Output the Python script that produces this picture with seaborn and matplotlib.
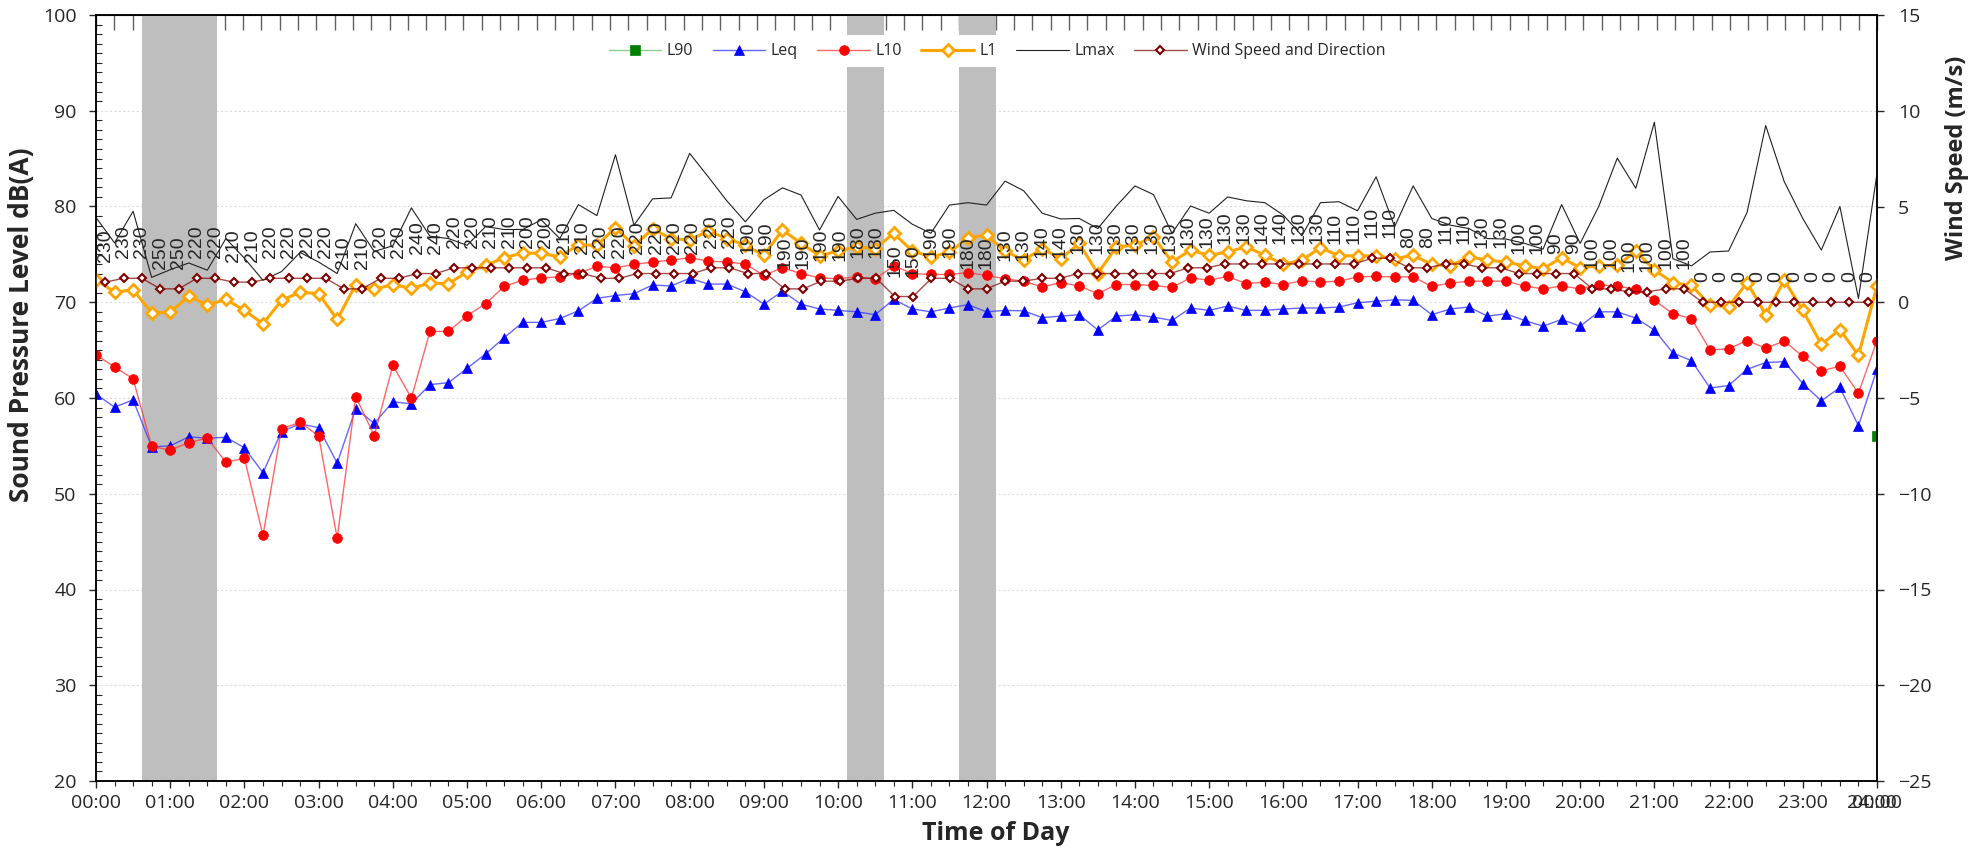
import numpy as np
import pandas as pd
import matplotlib
matplotlib.use("Agg")
import matplotlib.pyplot as plt
from matplotlib.ticker import MultipleLocator, FixedLocator
import seaborn as sns

# ---------------- data (15-minute intervals, 00:00 .. 24:00) ----------------
leq = [60.4, 59.05, 59.8, 54.9, 55.0, 55.95, 55.8, 55.9, 54.8, 52.2,
       56.5, 57.3, 56.9, 53.2, 58.9, 57.35, 59.6, 59.4, 61.4, 61.6,
       63.1, 64.6, 66.3, 67.9, 67.9, 68.3, 69.1, 70.4, 70.7, 70.9,
       71.8, 71.7, 72.5, 71.9, 71.9, 71.1, 69.8, 71.15, 69.8, 69.3,
       69.15, 69.0, 68.7, 70.3, 69.3, 69.0, 69.4, 69.75, 69.0, 69.15,
       69.1, 68.4, 68.55, 68.7, 67.1, 68.55, 68.7, 68.45, 68.1, 69.4,
       69.15, 69.6, 69.15, 69.15, 69.3, 69.4, 69.4, 69.5, 69.95, 70.1,
       70.25, 70.2, 68.7, 69.3, 69.5, 68.55, 68.8, 68.1, 67.5, 68.2,
       67.5, 69.0, 69.0, 68.35, 67.1, 64.7, 63.9, 61.05, 61.3, 63.0,
       63.7, 63.8, 61.5, 59.7, 61.1, 57.1, 63.0]

l10 = [64.5, 63.25, 62.0, 54.95, 54.55, 55.35, 55.8, 53.3, 53.7, 45.65,
       56.8, 57.45, 56.05, 45.35, 60.15, 56.05, 63.4, 60.0, 66.95, 66.95,
       68.6, 69.85, 71.65, 72.3, 72.55, 72.65, 73.0, 73.75, 73.6, 73.95,
       74.2, 74.4, 74.65, 74.3, 74.2, 74.0, 72.8, 73.6, 73.0, 72.55,
       72.45, 72.65, 72.45, 73.8, 73.0, 72.9, 72.9, 73.1, 72.8, 72.45,
       72.2, 71.6, 72.05, 71.7, 70.9, 71.85, 71.85, 71.75, 71.55, 72.55,
       72.3, 72.7, 71.95, 72.1, 71.85, 72.25, 72.1, 72.2, 72.65, 72.7,
       72.65, 72.65, 71.65, 72.0, 72.2, 72.2, 72.2, 71.7, 71.4, 71.7,
       71.4, 71.85, 71.65, 71.4, 70.2, 68.8, 68.3, 65.0, 65.15, 66.0,
       65.2, 65.95, 64.35, 62.85, 63.3, 60.5, 66.0]

l1 = [72.35, 71.05, 71.3, 68.9, 68.95, 70.65, 69.7, 70.3, 69.15, 67.75,
      70.2, 71.05, 70.9, 68.2, 71.85, 71.35, 71.85, 71.45, 72.0, 71.95,
      73.15, 73.85, 74.65, 75.15, 75.1, 74.75, 76.0, 75.95, 77.8, 75.9,
      77.65, 76.65, 76.5, 77.45, 76.65, 75.95, 74.9, 77.55, 76.15, 74.85,
      75.35, 75.8, 75.6, 77.2, 75.35, 74.75, 75.2, 76.75, 77.0, 75.35,
      74.4, 75.6, 74.55, 76.15, 73.0, 75.8, 75.95, 76.85, 74.2, 75.45,
      74.9, 75.25, 75.8, 74.9, 73.95, 74.4, 75.7, 74.85, 74.85, 74.85,
      74.55, 74.9, 73.95, 73.8, 74.75, 74.4, 74.2, 73.8, 73.5, 74.65,
      73.6, 73.8, 73.85, 75.35, 73.35, 72.05, 71.75, 69.7, 69.55, 72.05,
      68.7, 72.3, 69.15, 65.6, 67.15, 64.45, 71.7]

lmax = [78.85, 76.2, 79.5, 72.6, 73.4, 74.1, 73.35, 76.65, 74.6, 72.3,
        73.2, 75.2, 74.2, 73.0, 78.2, 75.3, 75.9, 79.85, 76.9, 76.65,
        75.95, 77.9, 77.6, 77.6, 78.6, 76.65, 80.2, 79.05, 85.4, 78.05,
        80.8, 80.9, 85.55, 83.1, 80.6, 78.4, 80.7, 81.95, 81.2, 77.55,
        81.05, 78.65, 79.3, 79.6, 78.15, 77.2, 80.15, 80.4, 80.15, 82.65,
        81.65, 79.3, 78.7, 78.75, 77.7, 80.05, 82.15, 81.25, 77.2, 80.05,
        79.3, 81.0, 80.6, 80.4, 79.1, 76.95, 80.4, 80.5, 79.55, 83.1,
        77.9, 82.15, 78.75, 78.05, 77.7, 76.65, 76.6, 76.15, 75.55, 80.2,
        76.15, 80.0, 85.05, 81.9, 88.8, 74.55, 73.8, 75.25, 75.35, 79.4,
        88.45, 82.6, 78.75, 75.45, 80.0, 70.4, 83.45]

l90_time = ["24:00"]
l90 = [56.0]

# wind (97 categories, plotted between the tick marks of the top axis)
wind_speed = [1.05, 1.25, 1.25, 0.7, 0.7, 1.25, 1.25, 1.05, 1.05, 1.25,
              1.25, 1.25, 1.25, 0.7, 0.7, 1.25, 1.25, 1.5, 1.5, 1.8,
              1.8, 1.8, 1.8, 1.8, 1.8, 1.5, 1.5, 1.25, 1.25, 1.5,
              1.5, 1.5, 1.5, 1.8, 1.8, 1.5, 1.5, 0.7, 0.7, 1.1,
              1.1, 1.25, 1.25, 0.3, 0.3, 1.25, 1.25, 0.7, 0.7, 1.1,
              1.1, 1.25, 1.25, 1.5, 1.5, 1.5, 1.5, 1.5, 1.5, 1.8,
              1.8, 2.0, 2.0, 2.0, 2.0, 2.0, 2.0, 2.0, 2.0, 2.3,
              2.3, 1.8, 1.8, 2.0, 2.0, 1.8, 1.8, 1.5, 1.5, 1.5,
              1.5, 0.7, 0.7, 0.55, 0.55, 0.7, 0.7, 0, 0, 0,
              0, 0, 0, 0, 0, 0, 0]

wind_dir = [230, 230, 230, 250, 250, 220, 220, 210, 210, 220,
            220, 220, 220, 210, 210, 220, 220, 240, 240, 220,
            220, 210, 210, 200, 200, 210, 210, 220, 220, 220,
            220, 220, 220, 220, 220, 190, 190, 190, 190, 190,
            190, 180, 180, 150, 150, 190, 190, 180, 180, 130,
            130, 140, 140, 130, 130, 130, 130, 130, 130, 130,
            130, 130, 130, 140, 140, 130, 130, 110, 110, 110,
            110, 80, 80, 110, 110, 130, 130, 100, 100, 90,
            90, 100, 100, 100, 100, 100, 100, 0, 0, 0,
            0, 0, 0, 0, 0, 0, 0]

shaded_slots = ["00:45", "01:00", "01:15", "01:30", "10:15", "10:30", "11:45", "12:00"]
hour_labels = ["00:00", "01:00", "02:00", "03:00", "04:00", "05:00", "06:00", "07:00",
               "08:00", "09:00", "10:00", "11:00", "12:00", "13:00", "14:00", "15:00",
               "16:00", "17:00", "18:00", "19:00", "20:00", "21:00", "22:00", "23:00", "00:00"]


def to_hours(s):
    h, m = s.split(":")
    return int(h) + int(m) / 60.0


# ---------------- style ----------------
sns.set_style("white")
plt.rcParams['font.family'] = ['Open Sans', 'DejaVu Sans']

W, H = 1982, 850
fig = plt.figure(figsize=(W / 100, H / 100), dpi=100)
L, R, T, B = 96, 1877, 15, 781
ax = fig.add_axes([L / W, 1 - B / H, (R - L) / W, (B - T) / H])

n = len(leq)
t = np.arange(n) * 0.25
df = pd.DataFrame({"hour": t, "Leq": leq, "L10": l10, "L1": l1, "Lmax": lmax})
nw = len(wind_speed)
tw = (np.arange(nw) + 0.5) * 24.0 / nw
dfw = pd.DataFrame({"hour": tw, "speed": wind_speed, "dir": wind_dir})

# shaded periods
sh = [to_hours(s) for s in shaded_slots]
ax.bar(sh, [80] * len(sh), bottom=20, width=0.25, color="#BEBEBE", linewidth=0, zorder=1)

common = dict(ax=ax, estimator=None, sort=False, legend=False)
sns.lineplot(x=[to_hours(s) for s in l90_time], y=l90, color=(0.55, 0.8, 0.55), lw=1,
             marker="s", markersize=6.5, markerfacecolor="#008000",
             markeredgecolor="#008000", markeredgewidth=0.5, label="L90", zorder=3, **common)
sns.lineplot(data=df, x="hour", y="Leq", color=(0.2, 0.2, 1.0, 0.75), lw=1,
             marker="^", markersize=7.5, markerfacecolor="#0000FF",
             markeredgecolor="#0000FF", markeredgewidth=0.5, label="Leq", zorder=4, **common)
sns.lineplot(data=df, x="hour", y="L10", color=(1.0, 0.2, 0.2, 0.75), lw=1,
             marker="o", markersize=7, markerfacecolor="#FF0000",
             markeredgecolor="#FF0000", markeredgewidth=0.5, label="L10", zorder=5, **common)
sns.lineplot(data=df, x="hour", y="L1", color="#FFA500", lw=2.2,
             marker="D", markersize=6.3, markerfacecolor="white",
             markeredgecolor="#FFA500", markeredgewidth=2, label="L1", zorder=6, **common)
sns.lineplot(data=df, x="hour", y="Lmax", color="#202020", lw=0.8,
             label="Lmax", zorder=7, **common)

ax.set_xlim(0, 24)
ax.set_ylim(20, 100)
ax.yaxis.set_major_locator(MultipleLocator(10))
ax.yaxis.set_minor_locator(MultipleLocator(1))
ax.xaxis.set_major_locator(FixedLocator(np.arange(25)))
ax.set_xticklabels(hour_labels)
ax.xaxis.set_minor_locator(MultipleLocator(0.25))
ax.set_axisbelow(True)
ax.yaxis.grid(True, which="major", color="#DCDCDC", linestyle=(0, (2, 2)), lw=0.8)
ax.xaxis.grid(False)

ax.tick_params(axis="y", which="major", direction="out", length=5, width=1, pad=9,
               labelsize=14, left=True, right=False)
ax.tick_params(axis="y", which="minor", direction="in", length=4, width=0.8,
               left=True, right=False)
ax.tick_params(axis="x", which="major", direction="out", length=5, width=1, pad=4,
               labelsize=14, bottom=True, top=False)
ax.tick_params(axis="x", which="minor", direction="out", length=3.5, width=0.8,
               bottom=True, top=False)
for s in ax.spines.values():
    s.set_color("black")
    s.set_linewidth(1.1)

# overlapping end label as in the original
ax.annotate("24:00", xy=(24, 0), xycoords=("data", "axes fraction"),
            xytext=(-3.6, -9), textcoords="offset points", ha="center", va="top",
            fontsize=14)

# top category ticks (wind categories)
top = ax.secondary_xaxis("top")
top.set_xticks(np.arange(nw + 1) * 24.0 / nw)
top.set_xticklabels([])
top.tick_params(direction="in", length=11, width=1, color="#606060")

# right axis: wind
ax2 = ax.twinx()
ax2.set_ylim(-25, 15)
ax2.yaxis.set_major_locator(MultipleLocator(5))
sns.lineplot(data=dfw, x="hour", y="speed", ax=ax2, estimator=None, sort=False, legend=False,
             color=(0.5, 0.0, 0.0, 0.7), lw=1, marker="D", markersize=4,
             markerfacecolor="white", markeredgecolor="#800000", markeredgewidth=1.5,
             label="Wind Speed and Direction", zorder=8)
for x, y, d in zip(dfw["hour"], dfw["speed"], dfw["dir"]):
    ax2.annotate(str(d), xy=(x, y), xytext=(0, 20), textcoords="offset pixels",
                 rotation=90, ha="center", va="bottom", fontsize=14,
                 family=["Liberation Sans", "DejaVu Sans"], zorder=9)
ax2.tick_params(axis="y", direction="out", length=5, width=1, pad=10, labelsize=14)
for s in ax2.spines.values():
    s.set_color("black")
    s.set_linewidth(1.1)

# axis titles
ax.set_xlabel("Time of Day", fontsize=18, fontweight="bold")
ax.xaxis.label.set_va("center")
ax.xaxis.set_label_coords(0.505, -0.068)
ax.set_ylabel("Sound Pressure Level dB(A)", fontsize=19, fontweight="bold")
ax.yaxis.label.set_va("center")
ax.yaxis.set_label_coords(-0.042, 0.595)
ax2.set_ylabel("Wind Speed (m/s)", fontsize=17, fontweight="bold")
ax2.yaxis.label.set_va("center")
ax2.yaxis.set_label_coords(1.045, 0.813)

# legend
handles = ax.get_lines() + ax2.get_lines()
handles = [h for h in handles if h.get_label() in
           ("L90", "Leq", "L10", "L1", "Lmax", "Wind Speed and Direction")]
leg = ax2.legend(handles=handles, labels=[h.get_label() for h in handles],
                 loc="upper center", bbox_to_anchor=(0.506, 0.984), ncol=6,
                 frameon=True, fancybox=False, edgecolor="none", facecolor="white",
                 framealpha=1, fontsize=11.5, handlelength=3.3, handletextpad=0.35,
                 columnspacing=1.2, borderpad=0.5)
leg.set_zorder(20)

fig.savefig("out.png", dpi=100)
